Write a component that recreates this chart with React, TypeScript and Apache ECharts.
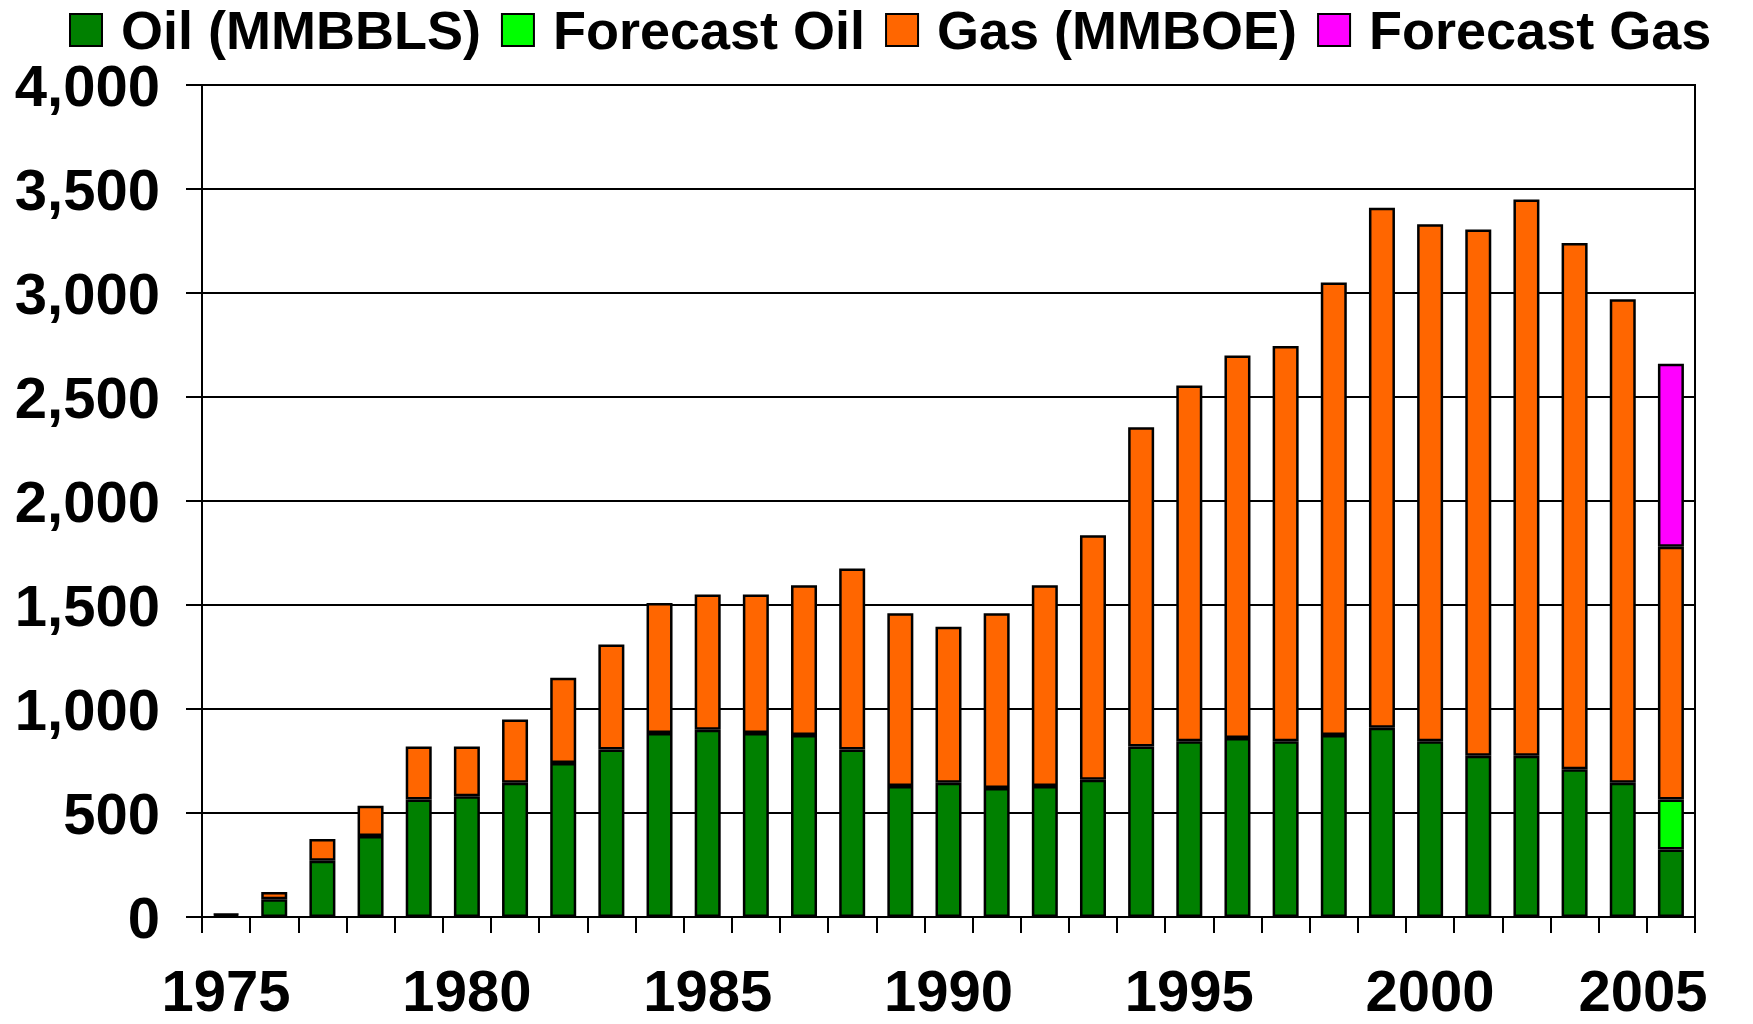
import React, { useEffect, useRef } from "react";
import * as echarts from "echarts";

const years = [
  "1975", "1976", "1977", "1978", "1979", "1980", "1981", "1982", "1983", "1984",
  "1985", "1986", "1987", "1988", "1989", "1990", "1991", "1992", "1993", "1994",
  "1995", "1996", "1997", "1998", "1999", "2000", "2001", "2002", "2003", "2004", "2005",
];
const oil = [10, 85, 270, 390, 565, 580, 645, 740, 805, 885, 900, 885, 875, 805, 630, 645, 620, 630, 660, 820, 845, 860, 845, 875, 910, 845, 775, 775, 710, 645, 325];
const forecastOil = [null, null, null, null, null, null, null, null, null, null, null, null, null, null, null, null, null, null, null, null, null, null, null, null, null, null, null, null, null, null, 240];
const gas = [5, 35, 105, 145, 255, 240, 305, 410, 505, 625, 650, 665, 720, 870, 830, 750, 840, 965, 1175, 1535, 1710, 1840, 1900, 2175, 2500, 2485, 2530, 2675, 2530, 2325, 1215];
const forecastGas = [null, null, null, null, null, null, null, null, null, null, null, null, null, null, null, null, null, null, null, null, null, null, null, null, null, null, null, null, null, null, 880];
const yTicks = { min: 0, max: 4000, interval: 500 };

const FONT = "'Liberation Sans', Arial, sans-serif";

export default function App() {
  const ref = useRef<HTMLDivElement>(null);
  useEffect(() => {
    document.body.style.margin = "0";
    const chart = echarts.init(ref.current!, null, { renderer: "svg" });
    const mk = (name: string, data: any[], color: string) => ({
      name,
      type: "bar",
      stack: "total",
      data,
      barWidth: 26,
      itemStyle: { color, borderColor: "#000", borderWidth: 2.5 },
    });
    chart.setOption({
      animation: false,
      backgroundColor: "#fff",
      textStyle: { fontFamily: FONT },
      legend: {
        top: 3,
        left: 69,
        padding: 0,
        itemWidth: 32,
        itemHeight: 32,
        itemGap: 20,
        icon: "rect",
        itemStyle: { borderColor: "#000", borderWidth: 2 },
        textStyle: { fontSize: 54, fontWeight: "bold", color: "#000", fontFamily: FONT, padding: [0, 0, 0, 14] },
      },
      grid: {
        left: 202,
        right: 58,
        top: 85,
        bottom: 107,
        show: true,
        borderColor: "#000",
        borderWidth: 2,
        backgroundColor: "transparent",
      },
      xAxis: {
        type: "category",
        data: years,
        axisLine: { lineStyle: { color: "#000", width: 2 } },
        axisTick: { show: true, interval: 0, length: 16, lineStyle: { color: "#000", width: 2 } },
        axisLabel: {
          interval: 4,
          fontSize: 58,
          fontWeight: "bold",
          color: "#000",
          fontFamily: FONT,
          margin: 44,
          formatter: (v: string) => (v === "2005" ? "{last|" + v + "}" : v),
          rich: { last: { fontSize: 58, fontWeight: "bold", color: "#000", fontFamily: FONT, padding: [0, 56, 0, 0] } },
        },
      },
      yAxis: {
        type: "value",
        min: yTicks.min,
        max: yTicks.max,
        interval: yTicks.interval,
        axisLine: { show: true, lineStyle: { color: "#000", width: 2 } },
        axisTick: { show: true, length: 16, lineStyle: { color: "#000", width: 2 } },
        splitLine: { lineStyle: { color: "#000", width: 2 } },
        axisLabel: {
          fontSize: 58,
          fontWeight: "bold",
          color: "#000",
          fontFamily: FONT,
          margin: 42,
          formatter: (v: number) => v.toLocaleString("en-US"),
        },
      },
      series: [
        mk("Oil (MMBBLS)", oil, "#008000"),
        mk("Forecast Oil", forecastOil, "#00ff00"),
        mk("Gas (MMBOE)", gas, "#ff6600"),
        mk("Forecast Gas", forecastGas, "#ff00ff"),
      ],
    });
    return () => chart.dispose();
  }, []);
  return <div ref={ref} style={{ position: "absolute", left: 0, top: 0, width: 1753, height: 1024 }} />;
}
